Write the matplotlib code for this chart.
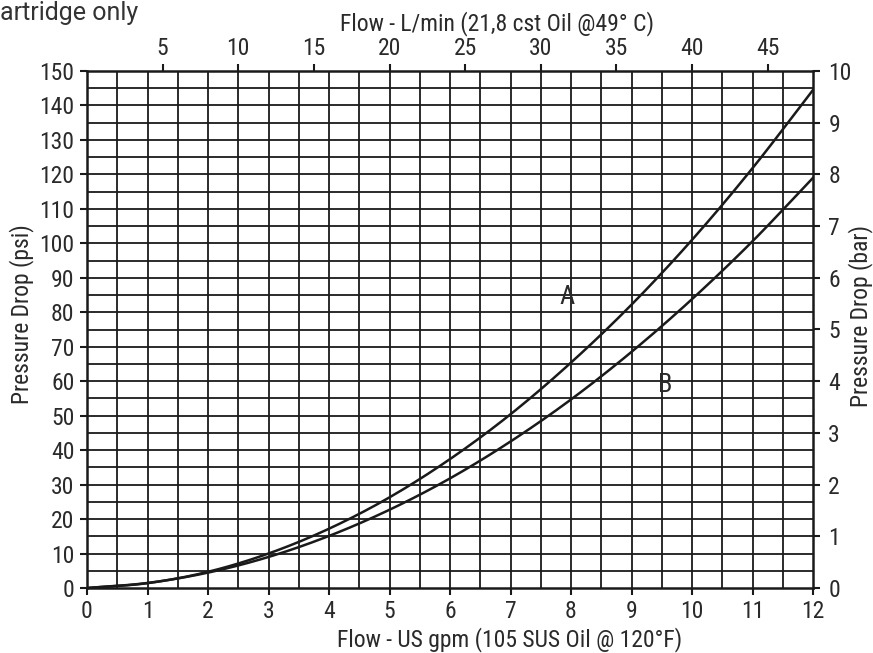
import matplotlib
matplotlib.use("Agg")
import matplotlib.pyplot as plt
import numpy as np

plt.rcParams['font.family'] = ['Roboto Condensed', 'DejaVu Sans']

# Data
flow_gpm = [0, 1, 2, 3, 4, 5, 6, 7, 8, 9, 10, 11, 12]
curve_a_psi = [0, 1.4, 4.7, 10.0, 17.2, 26.3, 37.4, 50.4, 65.4, 82.2, 101.0, 121.8, 144.5]
curve_b_psi = [0, 1.46, 4.46, 9.0, 15.1, 22.7, 31.8, 42.5, 54.7, 68.5, 83.8, 100.6, 119.0]
bottom_ticks = list(range(0, 13))
left_ticks = list(range(0, 151, 10))
right_ticks = list(range(0, 11))
top_ticks_lpm = [5, 10, 15, 20, 25, 30, 35, 40, 45]
GPM_TO_LPM = 4.0  # scale as drawn on the reference's top axis

TXT = '#2a2a2a'
LINE = '#1a1a1a'
FS = 17
W, H = 873, 653


def smooth(x, y):
    # Catmull-Rom through read points, for drawing only
    x = np.asarray(x, float); y = np.asarray(y, float)
    pts = np.column_stack([x, y])
    P = np.vstack([2 * pts[0] - pts[1], pts, 2 * pts[-1] - pts[-2]])
    out = []
    for i in range(1, len(P) - 2):
        p0, p1, p2, p3 = P[i - 1], P[i], P[i + 1], P[i + 2]
        t = np.linspace(0, 1, 25)[:, None]
        seg = 0.5 * ((2 * p1) + (-p0 + p2) * t + (2 * p0 - 5 * p1 + 4 * p2 - p3) * t ** 2
                     + (-p0 + 3 * p1 - 3 * p2 + p3) * t ** 3)
        out.append(seg if i == 1 else seg[1:])
    out = np.vstack(out)
    return out[:, 0], out[:, 1]


fig = plt.figure(figsize=(8.73, 6.53), dpi=100)
ax = fig.add_axes([87 / W, 1 - 588 / H, 726 / W, 517 / H])
ax.set_xlim(0, 12)
ax.set_ylim(0, 150)

# grid
for gx in np.arange(0.5, 12, 0.5):
    ax.axvline(gx, color=LINE, lw=1.3, zorder=1)
for gy in np.arange(5, 150, 5):
    ax.axhline(gy, color=LINE, lw=1.3, zorder=1)

xa, ya = smooth(flow_gpm, curve_a_psi)
xb, yb = smooth(flow_gpm, curve_b_psi)
ax.plot(xa, ya, color=LINE, lw=1.8, zorder=3)
ax.plot(xb, yb, color=LINE, lw=1.8, zorder=3)

ax.text(7.93, 84.4, 'A', fontsize=19, color=TXT, ha='center', va='center')
ax.text(9.55, 58.9, 'B', fontsize=19, color=TXT, ha='center', va='center')

for s in ax.spines.values():
    s.set_color(LINE)
    s.set_linewidth(1.8)

ax.set_xticks(bottom_ticks)
ax.set_yticks(left_ticks)
ax.tick_params(axis='both', direction='out', length=5, width=1.5, color=LINE,
               labelsize=FS, labelcolor=TXT, pad=4)

# right axis (bar)
axr = ax.twinx()
axr.set_ylim(0, 10)
axr.set_yticks(right_ticks)
axr.tick_params(axis='y', direction='out', length=5, width=1.5, color=LINE,
                labelsize=FS, labelcolor=TXT, pad=6)
for s in axr.spines.values():
    s.set_visible(False)

# top axis (L/min)
axt = ax.secondary_xaxis('top', functions=(lambda g: g * GPM_TO_LPM, lambda l: l / GPM_TO_LPM))
axt.set_xticks(top_ticks_lpm)
axt.tick_params(axis='x', direction='out', length=5, width=1.5, color=LINE,
                labelsize=FS, labelcolor=TXT, pad=3)
axt.spines['top'].set_visible(False)

# axis titles placed as in the reference
fig.text(510 / W, 1 - 640 / H, 'Flow - US gpm (105 SUS Oil @ 120°F)', fontsize=17, color=TXT,
         ha='center', va='center')
fig.text(497 / W, 1 - 24 / H, 'Flow - L/min (21,8 cst Oil @49° C)', fontsize=17, color=TXT,
         ha='center', va='center')
fig.text(22 / W, 1 - 314 / H, 'Pressure Drop (psi)', fontsize=17, color=TXT,
         ha='center', va='center', rotation=90)
fig.text(861 / W, 1 - 316 / H, 'Pressure Drop (bar)', fontsize=17, color=TXT,
         ha='center', va='center', rotation=90)

fig.text(0.0, 1 - 20 / H, 'artridge only', fontsize=18, color='#333333', ha='left', va='baseline',
         family=['Roboto', 'DejaVu Sans'])

fig.savefig('out.png', dpi=100)
